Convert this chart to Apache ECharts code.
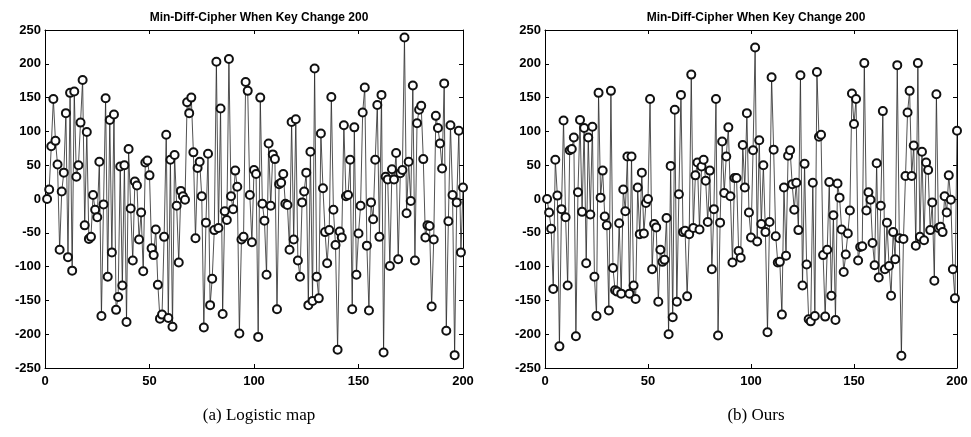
<!DOCTYPE html>
<html lang="en">
<head>
    <meta charset="utf-8">
    <title>Min-Diff-Cipher</title>
    <script src="https://cdn.jsdelivr.net/npm/echarts@6/dist/echarts.min.js"></script>
    <style>
        html, body { margin: 0; padding: 0; background: #fff; }
    </style>
</head>
<body>
<div id="main" style="width: 971px;height:437px;"></div>
<script type="text/javascript">
    // values, x = 1..200
    var logisticVals = [
        0, 14, 78, 148, 86, 51, -75, 11, 39, 127,
        -86, 157, -106, 159, 33, 50, 113, 176, -39, 99,
        -59, -56, 6, -16, -27, 55, -173, -8, 149, -115,
        117, -79, 125, -164, -145, 48, -128, 50, -182, 74,
        -14, -91, 26, 20, -60, -20, -107, 54, 57, 35,
        -73, -83, -45, -127, -177, -171, -56, 95, -176, 58,
        -189, 65, -10, -94, 12, 4, -1, 143, 127, 150,
        69, -58, 46, 55, 4, -190, -35, 67, -157, -118,
        -46, 203, -43, 134, -170, -18, -31, 207, 4, -15,
        42, 18, -199, -60, -56, 173, 160, 6, -64, 43,
        37, -204, 150, -7, -32, -112, 82, -10, 66, 59,
        -163, 22, 24, 37, -7, -9, -75, 114, -60, 118,
        -91, -115, -5, 11, 39, -157, 70, -151, 193, -115,
        -147, 97, 16, -49, -95, -46, 151, -16, -68, -223,
        -48, -57, 109, 4, 6, 58, -163, 106, -112, -51,
        -10, 128, 165, -69, -165, -5, -30, 58, 139, -56,
        154, -227, 33, 29, -99, 44, 29, 68, -89, 38,
        43, 239, -21, 55, -3, 168, -91, 112, 132, 138,
        59, -57, -39, -40, -159, -60, 123, 105, 82, 45,
        171, -195, -33, 109, 6, -231, -5, 101, -79, 17
    ];
    var oursVals = [
        0, -20, -44, -133, 58, 5, -218, -15, 116, -27,
        -128, 72, 74, 91, -203, 10, 117, -19, 105, -95,
        91, -23, 107, -115, -173, 157, 2, 42, -26, -39,
        -165, 160, -102, -135, -137, -36, -140, 14, -18, 63,
        -140, 63, -128, -148, 17, -52, 39, -51, -6, 0,
        148, -104, -37, -42, -152, -75, -93, -90, -28, -200,
        49, -175, 132, -152, 7, 154, -49, -47, -144, -52,
        184, -43, 35, 54, -45, 48, 58, 27, -34, 42,
        -104, -15, 148, -202, -35, 85, 9, 63, 106, 4,
        -94, 31, 31, -77, -87, 80, 17, 127, -20, -57,
        72, 224, -63, 87, -37, 50, -49, -197, -34, 180,
        73, -55, -94, -93, -171, 17, -84, 64, 72, 22,
        -16, 24, -46, 183, -128, 52, -97, -178, -181, 24,
        -173, 188, 92, 95, -83, -174, -75, 25, -143, -24,
        -179, 23, 2, -45, -108, -82, -51, -17, 156, 111,
        148, -91, -71, -70, 201, -17, 10, -1, -65, -98,
        53, -116, -10, 130, -104, -35, -99, -143, -49, -89,
        198, -58, -232, -59, 34, 128, 160, 34, 79, -69,
        201, -56, 70, -61, 54, 43, -46, -5, -121, 155,
        -43, -41, -49, 4, -20, 35, -1, -104, -147, 101
    ];
    var panelTitle = 'Min-Diff-Cipher When Key Change 200';
    var captions = ['(a) Logistic map', '(b) Ours'];
    var xTicks = [0, 50, 100, 150, 200];
    var yTicks = [-250, -200, -150, -100, -50, 0, 50, 100, 150, 200, 250];

    function pairs(vals) {
        var out = [];
        for (var i = 0; i < vals.length; i++) {
            out.push([i + 1, vals[i]]);
        }
        return out;
    }

    var grids = [
        {left: 45, top: 30, width: 418, height: 338},
        {left: 545, top: 30, width: 412, height: 338}
    ];
    var labelFont = {fontFamily: 'Liberation Sans, Arial', fontWeight: 'bold', fontSize: 13, color: '#000'};

    var xAxes = [], yAxes = [];
    for (var g = 0; g < 2; g++) {
        ['bottom', 'top'].forEach(function (pos) {
            xAxes.push({
                type: 'value', gridIndex: g, position: pos,
                min: xTicks[0], max: xTicks[xTicks.length - 1], interval: 50,
                axisLine: {show: true, onZero: false, lineStyle: {color: '#000', width: 1}},
                axisTick: {show: true, inside: true, length: 4, lineStyle: {color: '#000'}},
                axisLabel: pos === 'bottom' ? Object.assign({show: true, margin: 7}, labelFont) : {show: false},
                splitLine: {show: false}
            });
        });
        ['left', 'right'].forEach(function (pos) {
            yAxes.push({
                type: 'value', gridIndex: g, position: pos,
                min: yTicks[0], max: yTicks[yTicks.length - 1], interval: 50,
                axisLine: {show: true, onZero: false, lineStyle: {color: '#000', width: 1}},
                axisTick: {show: true, inside: true, length: 4, lineStyle: {color: '#000'}},
                axisLabel: pos === 'left' ? Object.assign({show: true, margin: 4}, labelFont) : {show: false},
                splitLine: {show: false}
            });
        });
    }

    function makeSeries(vals, g) {
        return {
            type: 'line',
            xAxisIndex: g * 2, yAxisIndex: g * 2,
            data: pairs(vals),
            symbol: 'emptyCircle', symbolSize: 8, showAllSymbol: true,
            lineStyle: {color: '#262626', width: 0.8},
            itemStyle: {color: '#111', borderColor: '#111', borderWidth: 0.75},
            emphasis: {disabled: true}
        };
    }

    var myChart = echarts.init(document.getElementById('main'));
    var option = {
        animation: false,
        backgroundColor: '#fff',
        title: [
            {text: panelTitle, left: 254, top: 7, textAlign: 'center',
             textStyle: {fontFamily: 'Liberation Sans, Arial', fontWeight: 'bold', fontSize: 12, color: '#000'}},
            {text: panelTitle, left: 751, top: 7, textAlign: 'center',
             textStyle: {fontFamily: 'Liberation Sans, Arial', fontWeight: 'bold', fontSize: 12, color: '#000'}},
            {text: captions[0], left: 254, top: 402, textAlign: 'center',
             textStyle: {fontFamily: 'Liberation Serif, Times New Roman', fontWeight: 'normal', fontSize: 17, color: '#000'}},
            {text: captions[1], left: 751, top: 402, textAlign: 'center',
             textStyle: {fontFamily: 'Liberation Serif, Times New Roman', fontWeight: 'normal', fontSize: 17, color: '#000'}}
        ],
        grid: grids,
        xAxis: xAxes,
        yAxis: yAxes,
        series: [makeSeries(logisticVals, 0), makeSeries(oursVals, 1)]
    };

    myChart.setOption(option);
</script>
</body>
</html>
